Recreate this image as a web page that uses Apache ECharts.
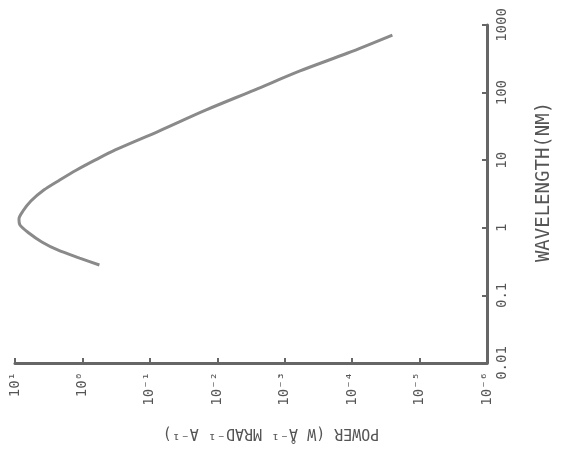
<!DOCTYPE html>
<html>
<head>
<meta charset="utf-8">
<script src="https://cdn.jsdelivr.net/npm/echarts@6/dist/echarts.min.js"></script>
<style>
  html, body { margin: 0; padding: 0; background: #fff; }
  #chart { width: 562px; height: 451px; }
</style>
</head>
<body>
<div id="chart"></div>
<script>
// curve: wavelength (nm) and power (W/A/mrad/A)
var wavelengths = [0.282, 0.357, 0.47, 0.617, 0.838, 1.10, 1.35, 1.77, 2.49, 3.62, 5.09, 7.16, 10.1, 14.2, 27, 55, 109, 209, 385, 711];
var powers = [0.56, 1.1, 2.33, 4.0, 6.23, 8.44, 8.73, 7.62, 5.81, 3.74, 2.17, 1.22, 0.641, 0.326, 0.0733, 0.0149, 0.00282, 5.93e-4, 1.16e-4, 2.53e-5];

var powerTickLabels = ["10\u207b\u2076", "10\u207b\u2075", "10\u207b\u2074", "10\u207b\u00b3", "10\u207b\u00b2", "10\u207b\u00b9", "10\u2070", "10\u00b9"];
var wavelengthTickLabels = ["0.01", "0.1", "1", "10", "100", "1000"];

var points = [];
for (var i = 0; i < wavelengths.length; i++) {
    points.push([powers[i], wavelengths[i]]);
}

var textColor = "#555";
var font = "DejaVu Sans Mono";

var option = {
    backgroundColor: "#fff",
    animation: false,
    grid: {
        left: 15,
        right: 72,
        top: 25,
        bottom: 88,
        containLabel: false
    },
    xAxis: {
        type: "log",
        logBase: 10,
        min: 1e-6,
        max: 10,
        splitNumber: 7,
        inverse: true,
        position: "bottom",
        name: "POWER (W \u00c5\u207b\u00b9 MRAD\u207b\u00b9 A\u207b\u00b9)",
        nameLocation: "middle",
        nameGap: 62,
        nameRotate: 180,
        nameTextStyle: {
            fontFamily: font,
            fontSize: 15,
            color: textColor,
            padding: [0, 40, 0, 0]
        },
        axisLine: { lineStyle: { color: "#666", width: 3 } },
        axisTick: { inside: true, length: 5, lineStyle: { color: "#666", width: 2 } },
        splitLine: { show: false },
        axisLabel: {
            rotate: 90,
            margin: 9,
            fontFamily: font,
            fontSize: 14,
            color: textColor,
            formatter: function (v) {
                return powerTickLabels[Math.round(Math.log10(v)) + 6];
            }
        }
    },
    yAxis: {
        type: "log",
        logBase: 10,
        min: 0.01,
        max: 1000,
        splitNumber: 5,
        position: "right",
        name: "WAVELENGTH(NM)",
        nameLocation: "middle",
        nameGap: 48,
        nameRotate: 90,
        nameTextStyle: {
            fontFamily: font,
            fontSize: 19,
            color: textColor,
            padding: [0, 0, 0, 24]
        },
        axisLine: { lineStyle: { color: "#666", width: 3 } },
        axisTick: { inside: true, length: 5, lineStyle: { color: "#666", width: 2 } },
        splitLine: { show: false },
        axisLabel: {
            rotate: 90,
            margin: 8,
            fontFamily: font,
            fontSize: 14,
            color: textColor,
            formatter: function (v) {
                return wavelengthTickLabels[Math.round(Math.log10(v)) + 2];
            }
        }
    },
    series: [
        {
            type: "line",
            data: points,
            smooth: 0.3,
            showSymbol: false,
            lineStyle: { color: "#8a8a8a", width: 3 }
        }
    ]
};

var chart = echarts.init(document.getElementById("chart"));
chart.setOption(option);
</script>
</body>
</html>
